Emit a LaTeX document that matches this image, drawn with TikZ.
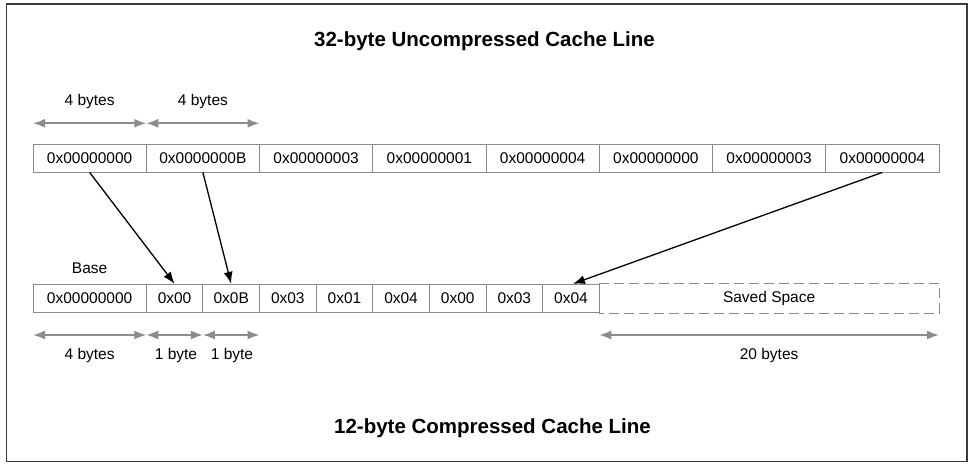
\documentclass[tikz,border=0pt]{standalone}
\usepackage{fontspec}
\setmainfont{Liberation Sans}
\usetikzlibrary{arrows.meta}
\definecolor{boxgray}{HTML}{8A8A8A}
\definecolor{arrgray}{HTML}{8C8C8C}
\definecolor{framegray}{HTML}{3A3A3A}
\begin{document}
\begin{tikzpicture}[x=1pt,y=-1pt,
  cell/.style={draw=boxgray, line width=0.8pt, minimum height=28pt, inner sep=0pt,
    font=\fontsize{15.5}{18}\selectfont, text=black},
  wide/.style={cell, minimum width=113.25pt},
  narrow/.style={cell, minimum width=56.625pt},
  lbl/.style={anchor=base, inner sep=0pt, font=\fontsize{15.5}{18}\selectfont},
  ttl/.style={anchor=base, inner sep=0pt, font=\bfseries\fontsize{20.5}{24}\selectfont},
  dim/.style={draw=arrgray, line width=1.8pt,
    {Latex[length=12pt,width=9pt]}-{Latex[length=12pt,width=9pt]}},
  ptr/.style={draw=black, line width=1.3pt, -{Latex[length=12pt,width=9pt]}},
  saved/.style={draw=boxgray, line width=0.8pt, dash pattern=on 10pt off 5pt}
]
\useasboundingbox (0,0) rectangle (969,465);
\draw[framegray, line width=1.8pt] (6.5,4) rectangle (967,461.5);

% titles
\node[ttl] (title1) at (484.5,46.7) {32-byte Uncompressed Cache Line};
\node[ttl] (title2) at (492.5,433) {12-byte Compressed Cache Line};

% top row
\node[wide] (t1) at (89.625,158) {0x00000000};
\node[wide] (t2) at (202.875,158) {0x0000000B};
\node[wide] (t3) at (316.125,158) {0x00000003};
\node[wide] (t4) at (429.375,158) {0x00000001};
\node[wide] (t5) at (542.625,158) {0x00000004};
\node[wide] (t6) at (655.875,158) {0x00000000};
\node[wide] (t7) at (769.125,158) {0x00000003};
\node[wide] (t8) at (882.375,158) {0x00000004};

% top dimension arrows
\coordinate (d1a) at (33,123.3);
\coordinate (d1b) at (146.25,123.3);
\coordinate (d2b) at (259.5,123.3);
\draw[dim] (d1a) -- (d1b);
\draw[dim] (d1b) -- (d2b);
\node[lbl] (l1) at (89.6,106) {4 bytes};
\node[lbl] (l2) at (202.9,106) {4 bytes};

% bottom row
\node[wide, minimum height=28.5pt] (b1) at (89.625,298.5) {0x00000000};
\node[narrow, minimum height=28.5pt] (b2) at (174.5625,298.5) {0x00};
\node[narrow, minimum height=28.5pt] (b3) at (231.1875,298.5) {0x0B};
\node[narrow, minimum height=28.5pt] (b4) at (287.8125,298.5) {0x03};
\node[narrow, minimum height=28.5pt] (b5) at (344.4375,298.5) {0x01};
\node[narrow, minimum height=28.5pt] (b6) at (401.0625,298.5) {0x04};
\node[narrow, minimum height=28.5pt] (b7) at (457.6875,298.5) {0x00};
\node[narrow, minimum height=28.5pt] (b8) at (514.3125,298.5) {0x03};
\node[narrow, minimum height=28.5pt] (b9) at (570.9375,298.5) {0x04};
\node[cell, draw=none, minimum width=339.75pt, minimum height=28.5pt] (ss) at (769.125,298.5) {Saved Space};
\draw[saved] (ss.north west) -- (ss.north east) -- (ss.south east) -- (ss.south west);

\node[lbl] (base) at (89.6,273) {Base};

% bottom dimension arrows
\coordinate (e1a) at (33,335);
\coordinate (e1b) at (146.25,335);
\coordinate (e2b) at (202.875,335);
\coordinate (e3b) at (259.5,335);
\coordinate (e4a) at (599.25,335);
\coordinate (e4b) at (939,335);
\draw[dim] (e1a) -- (e1b);
\draw[dim] (e1b) -- (e2b);
\draw[dim] (e2b) -- (e3b);
\draw[dim] (e4a) -- (e4b);
\node[lbl] (m1) at (89.6,359) {4 bytes};
\node[lbl] (m2) at (176,359) {1 byte};
\node[lbl] (m3) at (232,359) {1 byte};
\node[lbl] (m4) at (769.1,359) {20 bytes};

% pointers
\draw[ptr] (t1.south) -- (b2.north);
\draw[ptr] (t2.south) -- (b3.north);
\draw[ptr] (t8.south) -- ([xshift=2pt]b9.north);
\end{tikzpicture}
\end{document}
